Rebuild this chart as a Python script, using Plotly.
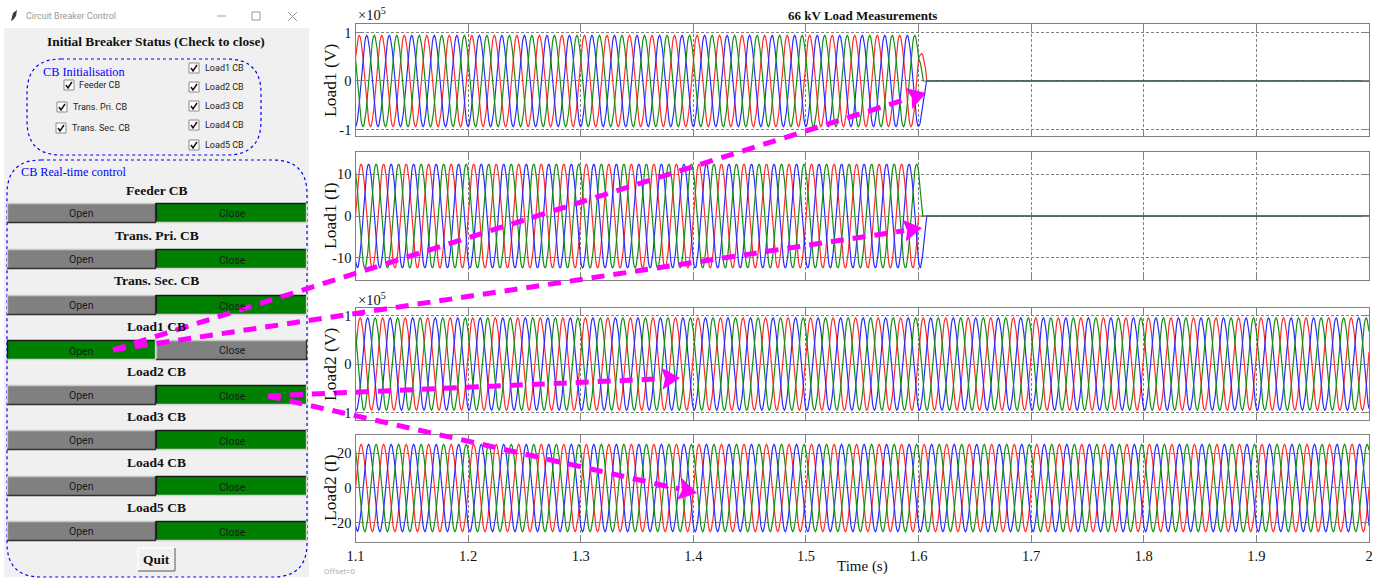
import plotly.graph_objects as go

W, H = 1387, 580
SERIF = "Liberation Serif"
SANS = "Roboto"

# ---------- data: one power-frequency cycle (24 samples) ----------
LOAD1_V_RED = [.47,.665,.814,.908,.94,.908,.814,.665,.47,.243,0,-.243,-.47,-.665,-.814,-.908,-.94,-.908,-.814,-.665,-.47,-.243,0,.243]
LOAD1_V_BLUE = [-.94,-.908,-.814,-.665,-.47,-.243,0,.243,.47,.665,.814,.908,.94,.908,.814,.665,.47,.243,0,-.243,-.47,-.665,-.814,-.908]
LOAD1_V_GREEN = [.47,.243,0,-.243,-.47,-.665,-.814,-.908,-.94,-.908,-.814,-.665,-.47,-.243,0,.243,.47,.665,.814,.908,.94,.908,.814,.665]

LOAD1_I_RED = [0,3.21,6.2,8.77,10.74,11.98,12.4,11.98,10.74,8.77,6.2,3.21,0,-3.21,-6.2,-8.77,-10.74,-11.98,-12.4,-11.98,-10.74,-8.77,-6.2,-3.21]
LOAD1_I_BLUE = [-10.74,-11.98,-12.4,-11.98,-10.74,-8.77,-6.2,-3.21,0,3.21,6.2,8.77,10.74,11.98,12.4,11.98,10.74,8.77,6.2,3.21,0,-3.21,-6.2,-8.77]
LOAD1_I_GREEN = [10.74,8.77,6.2,3.21,0,-3.21,-6.2,-8.77,-10.74,-11.98,-12.4,-11.98,-10.74,-8.77,-6.2,-3.21,0,3.21,6.2,8.77,10.74,11.98,12.4,11.98]

LOAD2_V_RED = [.246,.475,.672,.823,.918,.95,.918,.823,.672,.475,.246,0,-.246,-.475,-.672,-.823,-.918,-.95,-.918,-.823,-.672,-.475,-.246,0]
LOAD2_V_BLUE = [-.918,-.95,-.918,-.823,-.672,-.475,-.246,0,.246,.475,.672,.823,.918,.95,.918,.823,.672,.475,.246,0,-.246,-.475,-.672,-.823]
LOAD2_V_GREEN = [.672,.475,.246,0,-.246,-.475,-.672,-.823,-.918,-.95,-.918,-.823,-.672,-.475,-.246,0,.246,.475,.672,.823,.918,.95,.918,.823]

LOAD2_I_RED = [0,6.44,12.45,17.61,21.56,24.05,24.9,24.05,21.56,17.61,12.45,6.44,0,-6.44,-12.45,-17.61,-21.56,-24.05,-24.9,-24.05,-21.56,-17.61,-12.45,-6.44]
LOAD2_I_BLUE = [-21.56,-24.05,-24.9,-24.05,-21.56,-17.61,-12.45,-6.44,0,6.44,12.45,17.61,21.56,24.05,24.9,24.05,21.56,17.61,12.45,6.44,0,-6.44,-12.45,-17.61]
LOAD2_I_GREEN = [21.56,17.61,12.45,6.44,0,-6.44,-12.45,-17.61,-21.56,-24.05,-24.9,-24.05,-21.56,-17.61,-12.45,-6.44,0,6.44,12.45,17.61,21.56,24.05,24.9,24.05]

# Load1 breaker opens at 1.6 s: decay tails
V_RED_TAIL_T = [1.6013,1.6027,1.6036,1.6049,1.6062,1.6073,2.0]
V_RED_TAIL = [.53,.56,.55,.42,.25,0,0]
V_BLUE_TAIL_T = [1.6013,1.6027,1.6044,1.6058,1.6071,2.0]
V_BLUE_TAIL = [-.88,-.7,-.4,-.2,0,0]
V_GREEN_TAIL_T = [1.6018,1.6036,1.6042,2.0]
V_GREEN_TAIL = [.35,.1,0,0]
I_RED_TAIL_T = [1.601,2.0]
I_RED_TAIL = [0,0]
I_BLUE_TAIL_T = [1.6008,1.6017,1.6035,1.6053,1.6073,2.0]
I_BLUE_TAIL = [-11.98,-12.4,-9.5,-5,0,0]
I_GREEN_TAIL_T = [1.6012,1.6025,1.6037,2.0]
I_GREEN_TAIL = [7,3,0,0]

X_TICKS = [1.1,1.2,1.3,1.4,1.5,1.6,1.7,1.8,1.9,2.0]
X_LABELS = ["1.1","1.2","1.3","1.4","1.5","1.6","1.7","1.8","1.9","2"]
Y_TICKS_V = [-1,0,1]
Y_TICKS_L1I = [-10,0,10]
Y_TICKS_L2I = [-20,0,20]
PANEL_LABELS = ["Load1 (V)","Load1 (I)","Load2 (V)","Load2 (I)"]
BREAKER_ROWS = ["Feeder CB","Trans. Pri. CB","Trans. Sec. CB","Load1 CB","Load2 CB","Load3 CB","Load4 CB","Load5 CB"]
LOAD_CHECKS = ["Load1 CB","Load2 CB","Load3 CB","Load4 CB","Load5 CB"]
OPENED_ROW = "Load1 CB"

RED, BLUE, GREEN = "#ff2a2a", "#2a2aff", "#128f12"
FRAME = "#808080"

# sample clock: 24 samples per 20 ms cycle
def clock(cycles):
    return [1.1 + i / 1200 for i in range(24 * cycles + 1)]

def wave(cycle, cycles):
    return (cycle * cycles) + [cycle[0]]

t45 = clock(45)
t25 = clock(25)

fig = go.Figure()

def add(t, y, color, ax):
    fig.add_trace(go.Scatter(x=t, y=y, mode="lines", line=dict(color=color, width=1.2),
                             xaxis=f"x{ax}", yaxis=f"y{ax}", showlegend=False, hoverinfo="skip"))

add(t25 + V_RED_TAIL_T, wave(LOAD1_V_RED, 25) + V_RED_TAIL, RED, 1)
add(t25 + V_BLUE_TAIL_T, wave(LOAD1_V_BLUE, 25) + V_BLUE_TAIL, BLUE, 1)
add(t25 + V_GREEN_TAIL_T, wave(LOAD1_V_GREEN, 25) + V_GREEN_TAIL, GREEN, 1)
add(t25 + I_RED_TAIL_T, wave(LOAD1_I_RED, 25) + I_RED_TAIL, RED, 2)
add(t25 + I_BLUE_TAIL_T, wave(LOAD1_I_BLUE, 25) + I_BLUE_TAIL, BLUE, 2)
add(t25 + I_GREEN_TAIL_T, wave(LOAD1_I_GREEN, 25) + I_GREEN_TAIL, GREEN, 2)
add(t45, wave(LOAD2_V_RED, 45), RED, 3)
add(t45, wave(LOAD2_V_BLUE, 45), BLUE, 3)
add(t45, wave(LOAD2_V_GREEN, 45), GREEN, 3)
add(t45, wave(LOAD2_I_RED, 45), RED, 4)
add(t45, wave(LOAD2_I_BLUE, 45), BLUE, 4)
add(t45, wave(LOAD2_I_GREEN, 45), GREEN, 4)

# ---------- pixel helpers for layout ----------
def px(x): return x / W
def py(y): return 1 - y / H

AX_L, AX_R = 355.5, 1369
panels = [
    (1, 24, 136, [-1.134, 1.175], Y_TICKS_V),
    (2, 152, 280, [-15.24, 15.24], Y_TICKS_L1I),
    (3, 308, 420, [-1.155, 1.155], Y_TICKS_V),
    (4, 435, 542, [-30.9, 30.3], Y_TICKS_L2I),
]
layout = dict(width=W, height=H, margin=dict(l=0, r=0, t=0, b=0, pad=0, autoexpand=False),
              paper_bgcolor="white", plot_bgcolor="white", showlegend=False)
for n, top, bot, rng, yt in panels:
    layout[f"xaxis{n}"] = dict(
        domain=[px(AX_L), px(AX_R)], anchor=f"y{n}", range=[1.1, 2.0], tickmode="array",
        tickvals=X_TICKS, ticktext=X_LABELS, showticklabels=(n == 4), ticks="inside",
        ticklen=7, tickcolor=FRAME, tickwidth=1.2, showgrid=True, gridcolor="#808080", griddash="3px,2px",
        gridwidth=1, showline=True, linecolor=FRAME, linewidth=1.3, mirror="ticks", zeroline=False,
        tickfont=dict(family=SERIF, size=14.5, color="#111"))
    layout[f"yaxis{n}"] = dict(
        domain=[py(bot), py(top)], anchor=f"x{n}", range=rng, tickmode="array", tickvals=yt,
        ticktext=[str(v) for v in yt], ticks="inside", ticklen=7, tickcolor=FRAME, tickwidth=1.2,
        showgrid=True, gridcolor="#808080", griddash="3px,2px", gridwidth=1, showline=True,
        linecolor=FRAME, linewidth=1.3, mirror="ticks", zeroline=False,
        tickfont=dict(family=SERIF, size=14.5, color="#111"))

shapes, notes = [], []

def text(x, y, s, size, color="#111", family=SERIF, bold=False, xa="center", angle=0):
    notes.append(dict(xref="paper", yref="paper", x=px(x), y=py(y), text=f"<b>{s}</b>" if bold else s,
                      showarrow=False, xanchor=xa, yanchor="middle", textangle=angle,
                      font=dict(family=family, size=size, color=color)))

def rect(x0, y0, x1, y1, fill=None, line=None, lw=1):
    shapes.append(dict(type="rect", xref="paper", yref="paper", x0=px(x0), y0=py(y0), x1=px(x1), y1=py(y1),
                       fillcolor=fill or "rgba(0,0,0,0)", line=dict(color=line or "rgba(0,0,0,0)", width=lw if line else 0)))

def seg(x0, y0, x1, y1, color, lw=1, dash=None):
    shapes.append(dict(type="line", xref="paper", yref="paper", x0=px(x0), y0=py(y0), x1=px(x1), y1=py(y1),
                       line=dict(color=color, width=lw, dash=dash or "solid")))

def poly(points, fill=None, line=None, lw=1, closed=True):
    d = "M " + " L ".join(f"{px(a):.5f},{py(b):.5f}" for a, b in points) + (" Z" if closed else "")
    shapes.append(dict(type="path", xref="paper", yref="paper", path=d, fillcolor=fill or "rgba(0,0,0,0)",
                       line=dict(color=line or "rgba(0,0,0,0)", width=lw if line else 0)))

def rounded(x0, y0, x1, y1, r, color="#0000ff"):
    d = (f"M {px(x0+r):.5f},{py(y0):.5f} L {px(x1-r):.5f},{py(y0):.5f} "
         f"Q {px(x1):.5f},{py(y0):.5f} {px(x1):.5f},{py(y0+r):.5f} L {px(x1):.5f},{py(y1-r):.5f} "
         f"Q {px(x1):.5f},{py(y1):.5f} {px(x1-r):.5f},{py(y1):.5f} L {px(x0+r):.5f},{py(y1):.5f} "
         f"Q {px(x0):.5f},{py(y1):.5f} {px(x0):.5f},{py(y1-r):.5f} L {px(x0):.5f},{py(y0+r):.5f} "
         f"Q {px(x0):.5f},{py(y0):.5f} {px(x0+r):.5f},{py(y0):.5f} Z")
    shapes.append(dict(type="path", xref="paper", yref="paper", path=d, line=dict(color=color, width=1.2, dash="dot")))

# ---------- window chrome ----------
rect(4, 28, 309, 577, fill="#f0f0f0")
poly([(11, 21), (13, 13), (17, 10), (16, 16), (13, 20)], fill="#2b3f55")
text(24, 16, "Circuit Breaker Control", 9, color="#999999", family=SANS, xa="left")
seg(217, 16, 226, 16, "#999999")
rect(252, 12, 260, 20, line="#999999")
seg(288, 12, 297, 21, "#999999")
seg(297, 12, 288, 21, "#999999")

text(156, 41.5, "Initial Breaker Status (Check to close)", 13.4, bold=True)
rounded(27, 59, 261, 155, 34)
text(41, 71.5, "CB Initialisation", 12.3, color="#0000ff", xa="left")
rounded(7, 160, 307, 577, 34)
text(19, 172, "CB Real-time control", 12.2, color="#0000ff", xa="left")

def check(x, y, label, lx):
    rect(x - 5, y - 5, x + 5, y + 5, fill="white", line="#8a8a8a", lw=1)
    poly([(x - 3, y), (x - 1, y + 3), (x + 3, y - 3)], line="#111111", lw=1.5, closed=False)
    text(lx, y, label, 9, color="#222", family=SANS, xa="left")

check(69, 85, BREAKER_ROWS[0], 77)
check(62, 107, BREAKER_ROWS[1], 71)
check(61, 128, BREAKER_ROWS[2], 70)
for lab, yy in zip(LOAD_CHECKS, [68, 87, 106, 125, 145]):
    check(194, yy, lab, 202.5)

row_y = [203, 249, 295, 340, 385, 430, 476, 521]
title_y = [190.5, 235.5, 280.5, 326.5, 371.5, 416.5, 462, 507.5]
for name, y, ty in zip(BREAKER_ROWS, row_y, title_y):
    text(156.5, ty, name, 13.5, bold=True)
    opened = name == OPENED_ROW
    lc, rc = ("#008000", "#808080") if opened else ("#808080", "#008000")
    rect(7, y, 156, y + 20, fill=lc)
    rect(156, y, 307, y + 20, fill=rc)
    # raised button: light top/left, dark bottom/right; sunken: the reverse
    for x0, x1, sunk in [(7, 156, opened), (156, 307, not opened)]:
        tl, br = ("#1c1c1c", "#d0d0d0") if sunk else ("#c8c8c8", "#303030")
        seg(x0, y + .5, x1, y + .5, tl, 1.3)
        seg(x0 + .5, y, x0 + .5, y + 20, tl, 1.3)
        seg(x0, y + 19.5, x1, y + 19.5, br, 1.3)
        seg(x1 - .5, y, x1 - .5, y + 20, br, 1.3)
    text(81, y + (11 if opened else 10.5), "Open", 10.5, color="#1a1a1a", family=SANS)
    text(232, y + (10.5 if opened else 11), "Close", 10.5, color="#1a1a1a", family=SANS)

rect(138, 548, 175, 571, fill="#f0f0f0")
seg(138, 548, 175, 548, "#ffffff", 1.3)
seg(138, 548, 138, 571, "#ffffff", 1.3)
seg(138, 571, 175, 571, "#8a8a8a", 1.5)
seg(175, 548, 175, 571, "#8a8a8a", 1.5)
text(156.5, 559.5, "Quit", 13.5, bold=True)

# ---------- chart text ----------
text(862, 15.5, "66 kV Load Measurements", 13, bold=True)
text(356, 14, "×10<sup>5</sup>", 14.5, xa="left")
text(356, 299, "×10<sup>5</sup>", 14.5, xa="left")
for lab, yy in zip(PANEL_LABELS, [80, 216, 364, 488]):
    text(330, yy, lab, 17.5, angle=-90)
text(862, 566, "Time (s)", 15)
text(322, 571, "Offset=0", 8, color="#b0b0b0", family=SANS, xa="left")

# ---------- annotation arrows ----------
MAG = "#ff00ff"
def arrow(x0, y0, x1, y1):
    dx, dy = x1 - x0, y1 - y0
    n = (dx * dx + dy * dy) ** .5
    ux, uy = dx / n, dy / n
    bx, by = x1 - 18 * ux, y1 - 18 * uy
    seg(x0, y0, bx, by, MAG, 5, "13px,9px")
    poly([(x1, y1), (bx - 11 * uy, by + 11 * ux), (bx + 3 * ux, by + 3 * uy), (bx + 11 * uy, by - 11 * ux)], fill=MAG)

arrow(113, 350, 926, 93)
arrow(113, 350, 922, 228)
arrow(268, 396, 680, 378)
arrow(268, 396, 697, 493)

layout["shapes"] = shapes
layout["annotations"] = notes
fig.update_layout(**layout)
fig.write_html("out.html", config=dict(displayModeBar=False),
               default_width=f"{W}px", default_height=f"{H}px",
               post_script=("document.documentElement.style.margin='0';document.body.style.margin='0';"
                            "document.documentElement.style.overflow='hidden';document.body.style.overflow='hidden';"))
